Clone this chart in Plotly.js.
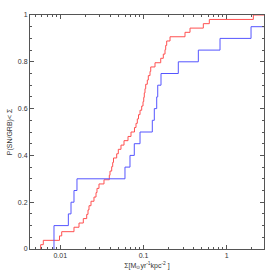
<!DOCTYPE html>
<html>
<head>
<meta charset="utf-8">
<script src="https://cdn.plot.ly/plotly-3.0.1.min.js"></script>
<style>html,body{margin:0;padding:0;background:#fff;}#chart{width:279px;height:279px;}</style>
</head>
<body>
<div id="chart"></div>
<script>
// Surface density values where the cumulative distribution steps (SN sample, red)
const snSigma = [0.00581, 0.00625, 0.00978, 0.0104, 0.01461, 0.01678, 0.0189, 0.02077, 0.02153, 0.02213,
  0.02339, 0.02541, 0.02686, 0.02761, 0.02918, 0.03351, 0.03881, 0.03958, 0.04148, 0.04264,
  0.04359, 0.04763, 0.04978, 0.05364, 0.05829, 0.06512, 0.07076, 0.0779, 0.08127, 0.08424,
  0.0871, 0.0908, 0.0951, 0.0986, 0.1006, 0.1022, 0.1042, 0.1063, 0.1111, 0.1142,
  0.1197, 0.1221, 0.1375, 0.161, 0.173, 0.1813, 0.1848, 0.19, 0.2083, 0.3153,
  0.3622, 0.5233, 0.6179, 2.088];
const snCdf = [0.0185, 0.037, 0.056, 0.074, 0.093, 0.111, 0.130, 0.148, 0.167, 0.185,
  0.204, 0.222, 0.241, 0.259, 0.278, 0.296, 0.315, 0.333, 0.352, 0.370,
  0.389, 0.407, 0.426, 0.444, 0.463, 0.481, 0.500, 0.519, 0.537, 0.556,
  0.574, 0.593, 0.611, 0.630, 0.648, 0.667, 0.685, 0.704, 0.722, 0.741,
  0.759, 0.778, 0.796, 0.815, 0.833, 0.852, 0.870, 0.889, 0.907, 0.926,
  0.944, 0.963, 0.981, 1.0];
// GRB sample (blue)
const grbSigma = [0.0084, 0.0125, 0.01345, 0.01461, 0.01587, 0.0599, 0.0688, 0.0775, 0.0908, 0.1276,
  0.1348, 0.1441, 0.1482, 0.1623, 0.262, 0.456, 0.831, 1.96];
const grbCdf = [0.10, 0.15, 0.20, 0.25, 0.30, 0.35, 0.40, 0.45, 0.50, 0.55,
  0.60, 0.65, 0.70, 0.75, 0.80, 0.85, 0.90, 0.95];
const xTickVals = [0.01, 0.1, 1];
const xTickText = ['0.01', '0.1', '1'];
const yTickVals = [0, 0.2, 0.4, 0.6, 0.8, 1];
const yTickText = ['0', '0.2', '0.4', '0.6', '0.8', '1'];

const xRangeLog = [-2.364, 0.448];
const xMax = Math.pow(10, xRangeLog[1]);

function stepTrace(xs, ys, color) {
  const x = [xs[0]].concat(xs, [xMax]);
  const y = [0].concat(ys, [ys[ys.length - 1]]);
  return {x: x, y: y, type: 'scatter', mode: 'lines', line: {shape: 'hv', color: color, width: 1}, hoverinfo: 'skip'};
}

const minorVals = [];
for (let e = -3; e <= 0; e++) {
  for (let m = 2; m <= 9; m++) minorVals.push(m * Math.pow(10, e));
}

const axisCommon = {
  showline: true, linecolor: '#555', linewidth: 1, mirror: 'ticks',
  ticks: 'inside', ticklen: 4, tickcolor: '#555', tickwidth: 1,
  showgrid: false, zeroline: false,
  tickfont: {family: 'Liberation Sans, Arial, sans-serif', size: 7, color: '#333'}
};

const layout = {
  width: 279, height: 279,
  margin: {l: 30, r: 15, t: 15, b: 30},
  paper_bgcolor: '#fff', plot_bgcolor: '#fff',
  showlegend: false,
  xaxis: Object.assign({}, axisCommon, {
    type: 'log', range: xRangeLog,
    tickmode: 'array', tickvals: xTickVals, ticktext: xTickText,
    minor: {tickmode: 'array', tickvals: minorVals, ticks: 'inside', ticklen: 2, tickcolor: '#555', showgrid: false},
    title: {text: 'Σ[M<sub>⊙</sub>yr<sup>-1</sup>kpc<sup>-2</sup> ]', standoff: 4,
      font: {family: 'Liberation Sans, Arial, sans-serif', size: 7, color: '#333'}}
  }),
  yaxis: Object.assign({}, axisCommon, {
    range: [0, 1],
    tickmode: 'array', tickvals: yTickVals, ticktext: yTickText,
    minor: {dtick: 0.05, ticks: 'inside', ticklen: 2, tickcolor: '#555', showgrid: false},
    title: {text: 'P(SN/GRB)< Σ', standoff: 4,
      font: {family: 'Liberation Sans, Arial, sans-serif', size: 7, color: '#333'}}
  })
};

Plotly.newPlot('chart', [
  stepTrace(snSigma, snCdf, 'rgb(255,80,80)'),
  stepTrace(grbSigma, grbCdf, 'rgb(85,85,255)')
], layout, {staticPlot: true, displayModeBar: false});
</script>
</body>
</html>
